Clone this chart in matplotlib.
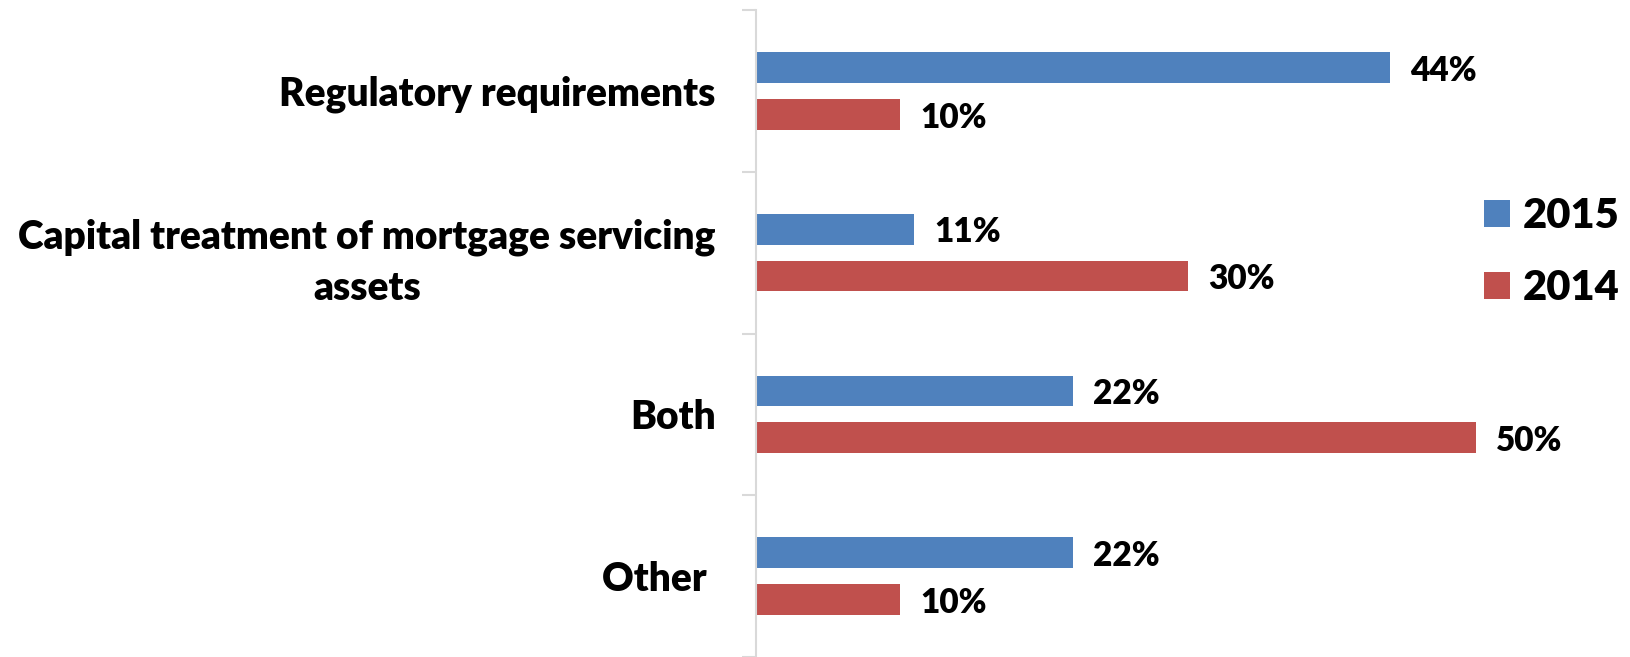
import matplotlib
matplotlib.use("Agg")
from matplotlib import pyplot as plt
import numpy as np

# survey categories, top to bottom
categories = ["Regulatory requirements",
              "Capital treatment of mortgage servicing\nassets",
              "Both",
              "Other "]
pct_2015 = [44, 11, 22, 22]
pct_2014 = [10, 30, 50, 10]

c2015 = "#4F81BD"
c2014 = "#C0504D"
grid_grey = "#D9D9D9"

plt.rcParams['font.family'] = ['Lato', 'DejaVu Sans']
plt.rcParams['font.weight'] = 'heavy'

fig = plt.figure(figsize=(16.31, 6.57), dpi=100)
ax = fig.add_axes([756 / 1631, 0.0, 864 / 1631, 647 / 657])

y = np.arange(len(categories))
h = 0.19
off = 0.145
ax.barh(y - off, pct_2015, height=h, color=c2015, label="2015")
ax.barh(y + off, pct_2014, height=h, color=c2014, label="2014")

for yi, v in zip(y, pct_2015):
    ax.text(v + 1.4, yi - off + 0.02, f"{v}%", va="center", ha="left",
            fontsize=24, fontweight="heavy")
for yi, v in zip(y, pct_2014):
    ax.text(v + 1.4, yi + off + 0.02, f"{v}%", va="center", ha="left",
            fontsize=24, fontweight="heavy")

ax.set_xlim(0, 60)
ax.set_ylim(3.5, -0.5)

# category labels on major ticks, separator marks on minor ticks
ax.set_yticks(y)
ax.set_yticklabels(categories, fontsize=28, fontweight="heavy")
plt.setp(ax.get_yticklabels(), multialignment="center", linespacing=1.45)
ax.tick_params(axis="y", which="major", length=0, pad=29)
ax.set_yticks(np.arange(-0.5, len(categories), 1.0), minor=True)
ax.tick_params(axis="y", which="minor", length=10, width=1.5, color=grid_grey)
ax.set_xticks([])

for s in ["top", "right", "bottom"]:
    ax.spines[s].set_visible(False)
ax.spines["left"].set_color(grid_grey)
ax.spines["left"].set_linewidth(1.5)

leg = fig.legend(loc="upper left", bbox_to_anchor=(1476 / 1631, 1 - 189 / 657),
                 frameon=False, fontsize=30, handlelength=0.62, handleheight=0.62,
                 handletextpad=0.3, labelspacing=0.8, borderaxespad=0,
                 borderpad=0.2)
for t in leg.get_texts():
    t.set_fontweight("heavy")

fig.savefig("out.png", dpi=100)
